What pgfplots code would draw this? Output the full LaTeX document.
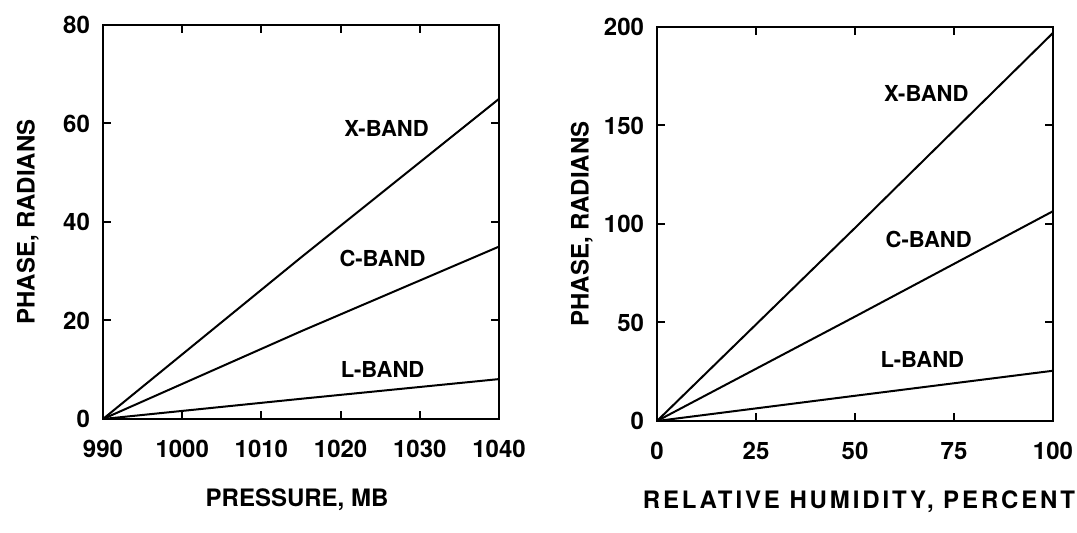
\documentclass[border=0pt]{standalone}
\usepackage{pgfplots}
\pgfplotsset{compat=1.18}
\usepackage{fontspec}
\setmainfont{TeX Gyre Heros}
\begin{document}
\begin{tikzpicture}[x=1pt,y=1pt]
\useasboundingbox (0,0) rectangle (538.5,266.5);
\pgfplotsset{
  panel/.style={
    scale only axis, width=198pt, height=197pt,
    axis line style={line width=1pt},
    tick style={line width=1pt, black},
    tick align=inside, major tick length=4pt,
    font=\fontsize{12}{14}\selectfont\bfseries,
    /pgf/number format/assume math mode=true,
    /pgf/number format/set thousands separator={},
    xticklabel style={yshift=-7pt},
    yticklabel style={xshift=-3pt},
    xlabel style={at={(axis description cs:0.49,-0.205)}, anchor=center},
    ylabel style={at={(axis description cs:-0.19,0.5)}, anchor=center, rotate=0},
    every axis plot post/.append style={black, line width=1pt, mark=none},
  }
}
\begin{axis}[panel, at={(51.5pt,57pt)}, anchor=south west,
  xmin=990, xmax=1040, ymin=0, ymax=80,
  xtick={990,1000,...,1040}, ytick={0,20,...,80},
  xlabel={PRESSURE, MB}, ylabel={PHASE, RADIANS}]
\addplot coordinates {(990,0) (1015,32.8) (1040,65)};
\addplot coordinates {(990,0) (1015,17.8) (1040,35)};
\addplot coordinates {(990,0) (1015,4.1) (1040,8.1)};
\node[font=\fontsize{11}{13}\selectfont\bfseries] at (axis cs:1025.8,59) {X-BAND};
\node[font=\fontsize{11}{13}\selectfont\bfseries] at (axis cs:1025.3,32.5) {C-BAND};
\node[font=\fontsize{11}{13}\selectfont\bfseries] at (axis cs:1025.3,10.1) {L-BAND};
\end{axis}
\begin{axis}[panel, at={(328.5pt,56pt)}, anchor=south west,
  xmin=0, xmax=100, ymin=0, ymax=200,
  xtick={0,25,...,100}, ytick={0,50,...,200},
  xlabel={\addfontfeature{LetterSpace=12}RELATIVE HUMIDITY, PERCENT}, ylabel={PHASE, RADIANS},
  xlabel style={at={(axis description cs:0.51,-0.205)}}]
\addplot coordinates {(0,0) (50,98) (100,197)};
\addplot coordinates {(0,0) (50,53) (100,106.5)};
\addplot coordinates {(0,0) (50,12.8) (100,25.5)};
\node[font=\fontsize{11}{13}\selectfont\bfseries] at (axis cs:68,166) {X-BAND};
\node[font=\fontsize{11}{13}\selectfont\bfseries] at (axis cs:68.6,92) {C-BAND};
\node[font=\fontsize{11}{13}\selectfont\bfseries] at (axis cs:67,31) {L-BAND};
\end{axis}
\end{tikzpicture}
\end{document}
